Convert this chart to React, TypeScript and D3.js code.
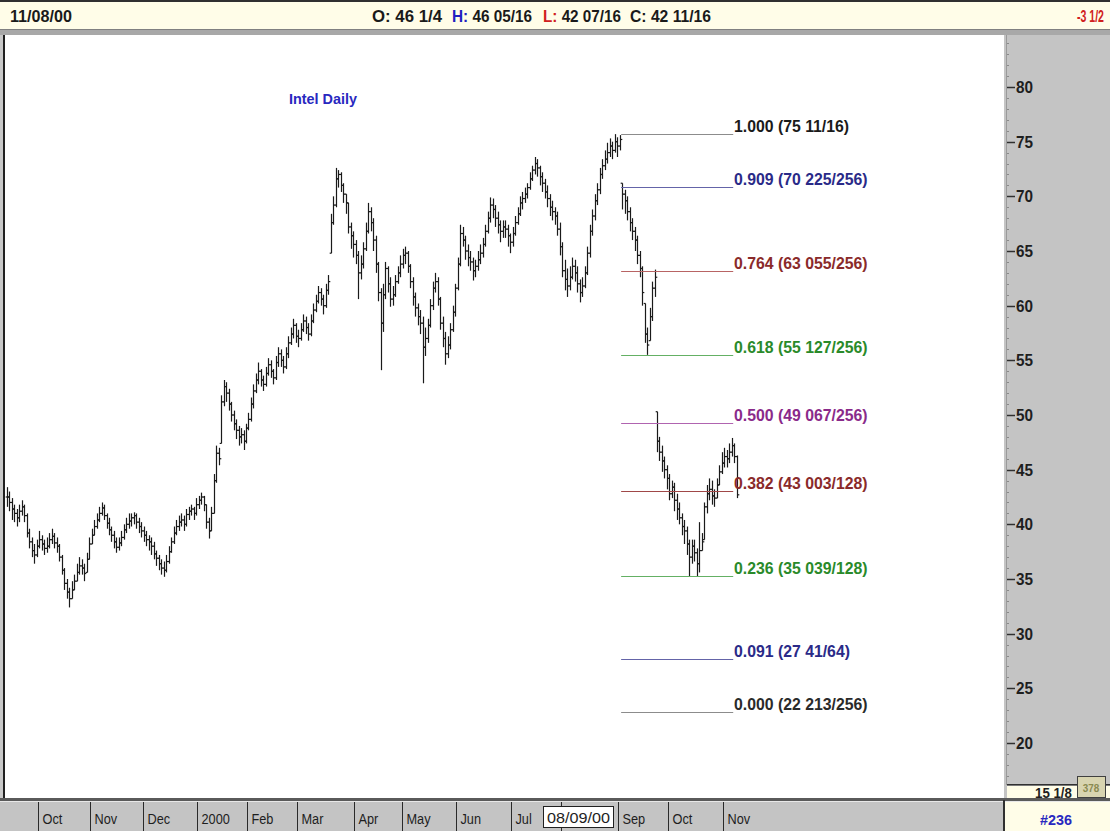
import React from "react";
import * as d3 from "d3";

const closes = [
  42.5, 42.0, 41.4, 41.0, 40.6, 41.2, 41.6, 40.8, 39.2, 38.4,
  37.6, 37.2, 38.0, 38.6, 38.2, 37.8, 38.0, 38.6, 38.9, 38.3,
  38.0, 37.0, 35.8, 34.6, 33.8, 33.2, 34.0, 34.8, 35.6, 36.2,
  36.0, 35.5, 36.8, 38.2, 39.0, 39.8, 40.4, 41.0, 41.5, 40.8,
  40.1, 39.5, 39.0, 38.4, 37.9, 38.3, 38.8, 39.5, 40.0, 40.3,
  40.6, 40.8, 40.2, 39.8, 39.4, 39.0, 38.6, 38.4, 38.0, 37.3,
  36.9, 36.4, 36.0, 35.8, 36.6, 37.5, 38.4, 39.2, 39.8, 40.2,
  40.4, 40.0, 40.9, 41.2, 41.4, 41.0, 41.8, 42.2, 42.5, 41.8,
  40.2, 39.4, 41.0, 44.0, 46.5, 46.0, 51.2, 52.6, 52.0, 51.0,
  50.0, 49.2, 48.6, 48.0, 48.2, 47.6, 48.8, 49.6, 51.0, 52.2,
  53.2, 54.0, 53.2, 52.8, 53.8, 54.6, 54.0, 53.4, 54.8, 55.6,
  55.0, 54.4, 55.6, 56.6, 57.4, 58.2, 57.2, 57.0, 57.8, 58.6,
  58.0, 57.4, 58.6, 59.6, 60.4, 61.2, 60.6, 60.0, 61.4, 62.2,
  67.6, 69.2, 71.6, 72.0, 71.0, 70.2, 69.4, 67.2, 66.4, 65.6,
  64.6, 63.0, 63.8, 65.2, 66.8, 68.6, 67.6, 66.0, 63.8, 61.2,
  58.4, 61.0, 63.4, 62.0, 60.6, 61.0, 62.2, 63.0, 63.8, 64.6,
  64.8, 63.6, 62.2, 60.8, 59.8, 59.0, 58.4, 56.2, 57.0, 58.2,
  60.0, 61.6, 62.2, 60.6, 58.4, 57.0, 55.6, 56.4, 57.8, 59.4,
  61.6, 63.8, 66.6, 66.0, 65.0, 64.4, 64.0, 63.2, 63.6, 64.2,
  64.8, 65.6, 66.8, 68.0, 69.2, 68.8, 68.0, 67.4, 66.8, 67.2,
  67.0, 66.4, 65.8, 66.6, 67.6, 68.4, 69.4, 69.8, 70.2, 70.8,
  71.6, 72.4, 73.0, 72.6, 71.8, 71.2, 70.4, 69.8, 69.0, 68.6,
  68.2, 67.0, 65.4, 63.2, 62.4, 61.8, 62.6, 63.6, 63.0, 62.0,
  61.2, 61.8, 63.0, 64.8, 66.8, 68.2, 69.6, 70.6, 72.0, 72.8,
  73.4, 74.0, 74.6, 74.2, 75.0, 74.6, 75.2, 70.2, 69.6, 68.6,
  67.6, 66.8, 66.0, 64.6, 63.4, 61.2, 57.4, 56.4, 59.0, 61.6,
  62.6, 47.6, 46.6, 45.8, 45.0, 44.2, 42.8, 43.4, 42.2, 41.4,
  40.6, 39.8, 39.4, 38.2, 37.0, 38.0, 37.4, 36.4, 37.6, 38.4,
  41.6, 42.8, 43.2, 42.6, 42.4, 43.6, 44.8, 45.6, 46.2, 46.0,
  46.6, 47.2, 46.2, 42.7,
];

const highs = [
  43.4, 43.0, 42.4, 41.8, 41.4, 41.8, 42.2, 41.8, 41.0, 39.6,
  38.8, 38.2, 38.6, 39.4, 39.0, 38.6, 38.8, 39.2, 39.6, 39.2,
  38.8, 38.2, 37.2, 36.0, 35.0, 34.2, 34.8, 35.4, 36.4, 37.0,
  36.8, 36.4, 37.4, 38.8, 39.6, 40.4, 41.0, 41.6, 42.0, 41.8,
  41.0, 40.6, 39.8, 39.4, 38.8, 38.8, 39.4, 40.0, 40.6, 41.0,
  41.0, 41.1, 41.0, 40.6, 40.2, 39.8, 39.4, 39.0, 38.8, 38.4,
  37.6, 37.2, 36.8, 36.6, 37.2, 38.0, 38.8, 39.8, 40.4, 40.8,
  41.0, 40.8, 41.4, 41.6, 41.8, 41.6, 42.4, 42.6, 42.9, 42.6,
  41.8, 40.6, 41.6, 44.6, 47.2, 47.0, 51.8, 53.2, 53.0, 52.4,
  51.2, 50.4, 49.6, 49.0, 48.8, 48.6, 49.2, 50.2, 51.6, 52.8,
  53.8, 54.8, 54.2, 53.6, 54.4, 55.2, 55.0, 54.2, 55.4, 56.2,
  56.0, 55.4, 56.2, 57.2, 58.0, 58.8, 58.4, 57.8, 58.4, 59.2,
  59.0, 58.4, 59.2, 60.2, 61.0, 61.8, 61.6, 61.0, 62.0, 62.8,
  68.4, 70.0, 72.6, 72.4, 72.2, 71.2, 70.2, 69.4, 67.6, 66.8,
  66.0, 65.0, 64.6, 65.8, 67.6, 69.4, 69.0, 68.0, 66.4, 64.0,
  61.6, 62.0, 64.0, 63.6, 62.6, 61.8, 62.8, 63.6, 64.6, 65.2,
  65.4, 65.0, 63.8, 62.6, 61.2, 60.2, 59.6, 59.0, 58.0, 58.8,
  60.6, 62.2, 63.0, 62.6, 60.8, 59.0, 57.6, 57.2, 58.4, 60.0,
  62.0, 64.4, 67.4, 67.2, 66.4, 65.6, 65.0, 64.4, 64.2, 65.0,
  65.6, 66.2, 67.4, 68.6, 69.9, 69.8, 69.2, 68.6, 67.8, 67.8,
  67.8, 67.4, 66.6, 67.2, 68.2, 69.0, 70.0, 70.4, 70.8, 71.2,
  72.2, 72.8, 73.6, 73.4, 72.8, 72.2, 71.6, 71.0, 70.2, 69.6,
  69.0, 68.6, 67.6, 65.8, 64.2, 63.4, 63.6, 64.4, 64.2, 63.6,
  62.4, 62.6, 63.6, 65.4, 67.4, 68.8, 70.2, 71.2, 72.6, 73.4,
  74.2, 74.9, 75.3, 75.0, 75.69, 75.4, 75.6, 71.2, 70.6, 70.0,
  69.0, 68.0, 67.2, 66.4, 65.0, 63.6, 60.2, 58.0, 59.8, 62.2,
  63.3, 50.3, 48.0, 47.2, 46.2, 45.4, 44.6, 44.0, 43.8, 42.8,
  42.0, 41.0, 40.4, 39.8, 38.6, 38.6, 38.6, 37.8, 40.2, 39.2,
  42.0, 43.6, 44.2, 44.0, 43.2, 44.2, 45.4, 46.6, 47.0, 46.8,
  47.4, 47.9, 47.4, 46.3,
];

const lows = [
  41.6, 41.2, 40.4, 40.2, 39.8, 40.2, 40.8, 40.2, 38.8, 37.8,
  37.0, 36.4, 37.0, 37.8, 37.6, 37.2, 37.4, 37.8, 38.2, 37.8,
  37.4, 36.6, 35.4, 34.0, 33.2, 32.4, 33.2, 34.0, 34.8, 35.4,
  35.4, 34.8, 35.6, 36.8, 38.2, 39.0, 39.6, 40.2, 40.8, 40.4,
  39.6, 39.0, 38.4, 37.8, 37.4, 37.6, 38.0, 38.6, 39.2, 39.6,
  39.8, 40.0, 39.6, 39.2, 38.8, 38.4, 38.0, 37.6, 37.2, 36.8,
  36.2, 35.8, 35.4, 35.2, 35.6, 36.4, 37.4, 38.2, 39.0, 39.4,
  39.8, 39.4, 39.8, 40.4, 40.8, 40.4, 40.8, 41.4, 41.8, 41.2,
  39.6, 38.7, 39.4, 41.0, 43.8, 45.4, 47.4, 50.8, 51.2, 50.4,
  49.4, 48.6, 47.8, 47.2, 47.4, 46.8, 47.4, 48.6, 49.4, 50.6,
  52.0, 52.8, 52.6, 52.2, 52.6, 53.6, 53.4, 52.8, 53.2, 54.4,
  54.4, 53.8, 54.2, 55.2, 56.4, 57.0, 56.6, 56.2, 56.8, 57.6,
  57.4, 56.8, 57.2, 58.4, 59.4, 60.2, 60.0, 59.2, 59.8, 61.0,
  64.8, 67.4, 69.0, 70.8, 70.4, 69.4, 68.4, 66.6, 65.2, 64.4,
  63.8, 60.6, 62.4, 63.4, 65.0, 66.6, 66.8, 65.0, 63.0, 60.4,
  54.1, 57.6, 60.6, 61.2, 59.9, 60.0, 60.8, 62.0, 62.6, 63.4,
  63.8, 63.0, 61.6, 60.0, 59.0, 58.2, 57.4, 52.9, 55.4, 56.6,
  58.0, 59.6, 61.2, 60.0, 57.8, 56.2, 54.6, 55.2, 56.0, 57.6,
  59.0, 61.4, 63.6, 65.4, 64.2, 63.6, 63.2, 62.3, 62.6, 63.2,
  63.8, 64.4, 65.4, 66.6, 67.6, 68.0, 67.2, 66.6, 65.8, 66.2,
  66.2, 65.4, 64.8, 65.4, 66.4, 67.4, 68.2, 68.8, 69.4, 69.8,
  70.6, 71.4, 72.0, 71.8, 71.0, 70.4, 69.8, 69.0, 68.2, 67.8,
  67.4, 66.4, 64.6, 62.6, 61.4, 60.8, 61.4, 62.4, 62.2, 61.2,
  60.3, 60.8, 61.6, 62.8, 64.4, 66.4, 67.8, 69.2, 70.2, 71.6,
  72.4, 73.0, 73.6, 73.4, 74.0, 73.6, 74.2, 68.8, 68.4, 67.8,
  66.8, 66.0, 65.0, 63.8, 62.6, 60.0, 56.6, 55.5, 56.8, 58.6,
  60.8, 46.6, 45.8, 44.8, 44.2, 43.2, 42.2, 42.4, 41.2, 40.4,
  40.0, 39.0, 38.2, 37.2, 35.2, 36.4, 36.6, 35.2, 35.6, 37.6,
  38.6, 41.0, 42.2, 41.8, 41.6, 42.4, 43.6, 44.6, 45.2, 45.2,
  45.6, 46.2, 45.6, 42.4,
];

// month start (bar index) and labels for the bottom time axis
const monthStarts = [13, 34, 55, 77, 97, 117, 140, 159, 181, 203, 223, 246, 266, 288];
const monthLabels = ["Oct", "Nov", "Dec", "2000", "Feb", "Mar", "Apr", "May", "Jun", "Jul", "Aug", "Sep", "Oct", "Nov"];
// the cursor date box covers the month label at this position
const cursorMonth = 10;
const cursorLabel = "08/09/00";

const yTicks = [20, 25, 30, 35, 40, 45, 50, 55, 60, 65, 70, 75, 80];

const fibLow = 22.832;
const fibHigh = 75.6875;
const fibRatios = [1.0, 0.909, 0.764, 0.618, 0.5, 0.382, 0.236, 0.091, 0.0];
const fibPriceLabels = ["75 11/16", "70 225/256", "63 055/256", "55 127/256", "49 067/256", "43 003/128", "35 039/128", "27 41/64", "22 213/256"];
const fibLineColors = ["#8c8c8c", "#6464a8", "#b86464", "#64b064", "#b064b0", "#a04848", "#64b064", "#6464a8", "#8c8c8c"];
const fibTextColors = ["#1a1a1a", "#2a2a88", "#8a2a2a", "#2a8a2a", "#8a2a8a", "#8a2a2a", "#2a8a2a", "#2a2a88", "#2a2a2a"];
const fibStartIdx = 246.6;
const fibEndIdx = 291.6;

const FONT = "'Liberation Sans', Arial, sans-serif";

// horizontally compressed text
function T(props: {
  x: number; y: number; sx?: number; size?: number; bold?: boolean; fill?: string; anchor?: string; children?: React.ReactNode;
}) {
  const { x, y, sx = 0.82, size = 15, bold = true, fill = "#1a1a1a", anchor = "start", children } = props;
  return (
    <text transform={`translate(${x},${y}) scale(${sx},1)`} fontSize={size} fontWeight={bold ? "bold" : "normal"} fill={fill} textAnchor={anchor}>
      {children}
    </text>
  );
}

// text fitted to a given width
function TL(props: {
  x: number; y: number; w: number; size?: number; bold?: boolean; fill?: string; children?: React.ReactNode;
}) {
  const { x, y, w, size = 15, bold = true, fill = "#1a1a1a", children } = props;
  return (
    <text x={x} y={y} textLength={w} lengthAdjust="spacingAndGlyphs" fontSize={size} fontWeight={bold ? "bold" : "normal"} fill={fill}>
      {children}
    </text>
  );
}

export default function App() {
  const W = 1110;
  const H = 831;
  const plotL = 5;
  const plotR = 1004;
  const plotT = 35;
  const plotB = 798;

  const x = d3.scaleLinear().domain([12.5, 287.5]).range([38, 723]);
  const y = d3.scaleLinear().domain([20, 80]).range([743, 87]);

  const minorTicks = d3.range(16, 85, 1).filter((v) => v % 5 !== 0);

  const bars = closes.map((c, i) => {
    const open = i === 0 ? c : Math.max(lows[i], Math.min(highs[i], closes[i - 1]));
    const xi = Math.round(x(i)) + 0.5;
    return { xi, h: y(highs[i]), l: y(lows[i]), o: y(open), c: y(c) };
  });

  return (
    <svg width={W} height={H} style={{ position: "absolute", left: 0, top: 0, background: "#c8c8c8" }} fontFamily={FONT}>
      {/* top header */}
      <rect x={0} y={0} width={W} height={2} fill="#303030" />
      <rect x={0} y={2} width={W} height={27} fill="#fffde8" />
      <rect x={0} y={29} width={W} height={6} fill="#a8a8a8" />
      <rect x={0} y={29} width={W} height={1} fill="#808080" />
      <TL x={10} y={22} w={62} size={17}>11/08/00</TL>
      <TL x={372} y={22} w={70} size={17}>O: 46 1/4</TL>
      <TL x={452} y={22} w={80} size={17}>
        <tspan fill="#2020c0">H:</tspan>
        <tspan> 46 05/16</tspan>
      </TL>
      <TL x={543} y={22} w={78} size={17}>
        <tspan fill="#d02020">L:</tspan>
        <tspan> 42 07/16</tspan>
      </TL>
      <TL x={630} y={22} w={81} size={17}>C: 42 11/16</TL>
      <T x={1104} y={22} size={16} sx={0.66} fill="#d02020" anchor="end">-3 1/2</T>

      {/* plot area */}
      <rect x={plotL} y={plotT} width={plotR - plotL} height={plotB - plotT} fill="#ffffff" />
      <rect x={3} y={plotT} width={2} height={plotB - plotT} fill="#202020" />

      <TL x={289} y={104} w={68} size={15} fill="#2828c0">Intel Daily</TL>

      {/* price bars */}
      <g stroke="#1a1a1a" strokeWidth={1.2} fill="none">
        {bars.map((b, i) => (
          <g key={i}>
            <line x1={b.xi} x2={b.xi} y1={b.h} y2={b.l} />
            <line x1={b.xi - 1.8} x2={b.xi} y1={b.o} y2={b.o} />
            <line x1={b.xi} x2={b.xi + 1.8} y1={b.c} y2={b.c} />
          </g>
        ))}
      </g>

      {/* fibonacci levels */}
      {fibRatios.map((r, k) => {
        const price = fibLow + r * (fibHigh - fibLow);
        const yy = Math.round(y(price)) + 0.5;
        return (
          <g key={k}>
            <line x1={x(fibStartIdx)} x2={x(fibEndIdx)} y1={yy} y2={yy} stroke={fibLineColors[k]} strokeWidth={1.2} />
            <T x={734} y={yy - 3} size={17} sx={0.93} fill={fibTextColors[k]}>
              {`${r.toFixed(3)} (${fibPriceLabels[k]})`}
            </T>
          </g>
        );
      })}

      {/* right price axis */}
      <rect x={plotR} y={plotT} width={W - plotR} height={plotB - plotT} fill="#c4c4c4" />
      <line x1={plotR + 2.5} x2={plotR + 2.5} y1={plotT} y2={785} stroke="#9a9a9a" strokeWidth={1} />
      {minorTicks.map((v) => (
        <line key={v} x1={plotR + 3} x2={plotR + 5} y1={Math.round(y(v)) + 0.5} y2={Math.round(y(v)) + 0.5} stroke="#8a8a8a" strokeWidth={1} />
      ))}
      {yTicks.map((v) => (
        <g key={v}>
          <line x1={plotR + 3} x2={plotR + 11} y1={Math.round(y(v)) + 0.5} y2={Math.round(y(v)) + 0.5} stroke="#303030" strokeWidth={1.5} />
          <T x={plotR + 12} y={y(v) + 6} size={17} sx={0.9} fill="#1e1e1e">{String(v)}</T>
        </g>
      ))}
      <rect x={plotR + 3} y={784} width={W - plotR - 3} height={1.5} fill="#303030" />
      <rect x={plotR + 3} y={786} width={W - plotR - 3} height={12} fill="#fffde8" />
      <T x={1035} y={798} size={14} sx={0.95} fill="#1e1e1e">15 1/8</T>
      <rect x={1077.5} y={776.5} width={28} height={21} fill="#d8d4b0" stroke="#404040" strokeWidth={1} />
      <T x={1091} y={792} size={11} sx={0.9} fill="#8a8a50" anchor="middle">378</T>

      {/* bottom time axis */}
      <rect x={0} y={plotB} width={W} height={H - plotB} fill="#c4c4c4" />
      <rect x={0} y={plotB} width={W} height={3} fill="#5a5a5a" />
      <rect x={0} y={plotB + 3} width={W} height={1} fill="#e8e8e8" />
      {monthStarts.map((m, k) => {
        const xd = Math.round(x(m - 0.5)) + 0.5;
        return (
          <g key={k}>
            <line x1={xd} x2={xd} y1={plotB + 4} y2={H} stroke="#2a2a2a" strokeWidth={1} />
            {k !== cursorMonth && (
              <T x={xd + 4} y={824} size={15} sx={0.85} bold={false} fill="#1e1e1e">{monthLabels[k]}</T>
            )}
          </g>
        );
      })}
      <rect x={543.5} y={806.5} width={70} height={21} fill="#ffffff" stroke="#202020" strokeWidth={1} />
      <TL x={547} y={823} w={63} size={15} bold={false} fill="#1e1e1e">{cursorLabel}</TL>
      <rect x={1003} y={plotB + 2} width={2} height={H - plotB} fill="#303030" />
      <rect x={1005} y={plotB + 4} width={W - 1005} height={H - plotB - 4} fill="#fffde8" />
      <TL x={1040} y={825} w={32} size={15} fill="#2828c0">#236</TL>
    </svg>
  );
}
